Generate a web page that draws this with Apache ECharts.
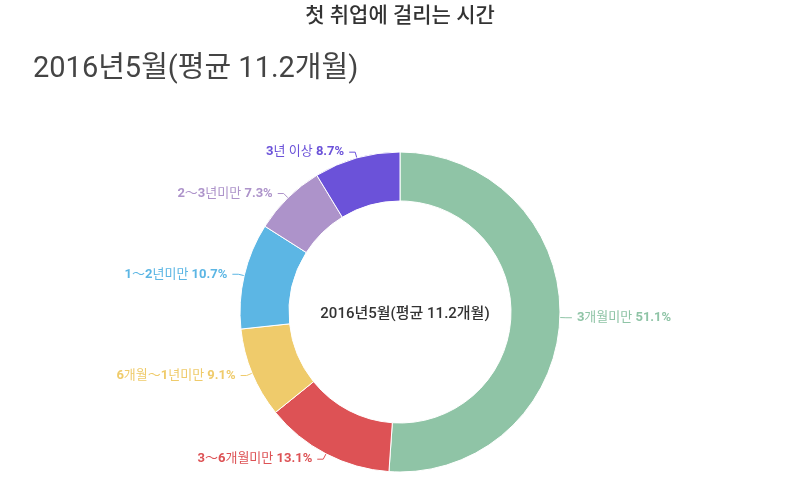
<!DOCTYPE html>
<html><head><meta charset="utf-8">
<script src="https://cdn.jsdelivr.net/npm/echarts@6/dist/echarts.min.js"></script>
<style>html,body{margin:0;padding:0;background:#fff}#c{width:800px;height:480px}</style>
</head><body><div id="c"></div>
<script>
const chartTitle = '첫 취업에 걸리는 시간';
const subTitle = '2016년5월(평균 11.2개월)';
const categories = ['3개월미만', '3～6개월미만', '6개월～1년미만', '1～2년미만', '2～3년미만', '3년 이상'];
const values = [51.1, 13.1, 9.1, 10.7, 7.3, 8.7];
const colors = ['#8fc4a6', '#dd5255', '#efcb6b', '#5cb6e4', '#ad93ca', '#6b52d9'];

const FONT = 'Roboto, "Noto Sans CJK KR", sans-serif';
function richName(s) {
  // ASCII digits/symbols in bold, Korean in regular weight
  return s.replace(/([\x00-\x7F]+)|([^\x00-\x7F]+)/g, function (m, a, k) {
    if (a) return a.trim() === '' ? '{k|' + a + '}' : '{d|' + a + '}';
    return '{k|' + k + '}';
  });
}
const chart = echarts.init(document.getElementById('c'));
chart.setOption({
  color: colors,
  title: [
    {text: chartTitle, left: 'center', top: 1, textStyle: {fontSize: 21, fontWeight: 500, color: '#333', fontFamily: FONT}},
    {text: subTitle, left: 28, top: 50, textStyle: {fontSize: 29, fontWeight: 'normal', color: '#444', fontFamily: FONT}},
    {text: subTitle, left: 400, top: 302, textAlign: 'center', textStyle: {fontSize: 15, fontWeight: 500, color: '#333', fontFamily: FONT}}
  ],
  series: [{
    type: 'pie',
    center: [400, 312],
    radius: [111, 160],
    startAngle: 90,
    clockwise: true,
    avoidLabelOverlap: true,
    itemStyle: {borderColor: '#fff', borderWidth: 1},
    label: {
      show: true,
      fontFamily: FONT,
      fontSize: 13,
      formatter: function (p) { return richName(p.name) + '{k| }{d|' + p.value.toFixed(1) + '%}'; },
      rich: {
        k: {fontSize: 13, fontFamily: FONT, fontWeight: 'normal'},
        d: {fontSize: 13, fontWeight: 'bold', fontFamily: FONT}
      }
    },
    labelLine: {show: true, length: 6, length2: 6, lineStyle: {width: 1}},
    data: categories.map((c, i) => ({name: c, value: values[i], label: {color: colors[i]}}))
  }]
});
</script></body></html>
